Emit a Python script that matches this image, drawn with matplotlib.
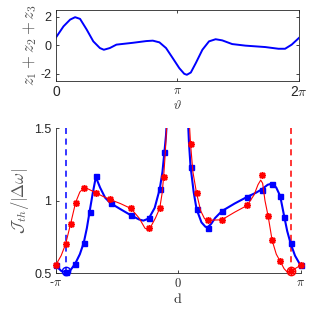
import numpy as np
import matplotlib
matplotlib.use("Agg")
import matplotlib.pyplot as plt

plt.rcParams['font.family'] = ['Liberation Sans', 'DejaVu Sans']
plt.rcParams['mathtext.fontset'] = 'cm'

PI = np.pi

# ---- top panel data: z1+z2+z3 vs theta ----
theta = [0.0, 0.197, 0.367, 0.496, 0.624, 0.795, 0.966, 1.137, 1.239, 1.393, 1.564,
         1.992, 2.334, 2.505, 2.676, 2.847, 3.018, 3.189, 3.317, 3.385, 3.488, 3.616,
         3.787, 3.958, 4.129, 4.300, 4.557, 4.899, 5.412, 5.754, 5.925, 6.096, 6.283]
zsum = [0.55, 1.34, 1.81, 1.98, 1.86, 1.11, 0.28, -0.19, -0.31, -0.19, 0.05,
        0.18, 0.30, 0.33, 0.21, -0.19, -0.89, -1.60, -2.00, -2.07, -1.91, -1.25,
        -0.31, 0.28, 0.43, 0.35, 0.09, -0.02, -0.12, -0.24, -0.24, 0.05, 0.52]

# ---- bottom panel: blue series ----
blue_line_x = [-PI, -3.0, -2.885, -2.76, -2.64, -2.52, -2.42, -2.34, -2.27, -2.19, -2.11,
               -2.0, -1.87, -1.73, -1.47, -1.21, -1.0, -0.89, -0.75, -0.6, -0.47, -0.40,
               -0.35, -0.31, -0.28, np.nan,
               0.25, 0.28, 0.32, 0.40, 0.475, 0.6, 0.70, 0.757, 0.85, 0.95, 1.124, 1.45,
               1.772, 2.0, 2.141, 2.30, 2.414, 2.52, 2.62, 2.727, 2.80, 2.885, 3.0, PI]
blue_line_y = [0.553, 0.515, 0.505, 0.52, 0.564, 0.63, 0.709, 0.81, 0.924, 1.05, 1.163,
               1.09, 1.02, 0.982, 0.94, 0.899, 0.87, 0.862, 0.877, 0.95, 1.081, 1.2,
               1.337, 1.45, 1.58, np.nan,
               1.58, 1.40, 1.236, 1.06, 0.941, 0.85, 0.82, 0.815, 0.84, 0.88, 0.928, 0.98,
               1.026, 1.055, 1.077, 1.11, 1.118, 1.09, 1.032, 0.886, 0.79, 0.707, 0.62, 0.553]
blue_pts_x = [-PI, -2.885, -2.64, -2.42, -2.27, -2.11, -1.73, -1.21, -0.75, -0.47, -0.35,
              0.32, 0.475, 0.757, 1.124, 1.772, 2.141, 2.414, 2.62, 2.727, 2.885, PI]
blue_pts_y = [0.553, 0.51, 0.564, 0.709, 0.924, 1.167, 0.982, 0.899, 0.877, 1.081, 1.337,
              1.236, 0.941, 0.812, 0.928, 1.026, 1.077, 1.116, 1.032, 0.886, 0.707, 0.553]

# ---- bottom panel: red series ----
red_line_x = [-PI, -3.0, -2.885, -2.757, -2.629, -2.52, -2.415, -2.30, -2.107, -1.93,
              -1.748, -1.48, -1.21, -1.0, -0.85, -0.78, -0.70, -0.58, -0.47, -0.41, -0.37,
              -0.33, -0.28, np.nan,
              0.28, 0.321, 0.38, 0.474, 0.58, 0.68, 0.757, 0.95, 1.124, 1.45, 1.772, 1.95,
              2.05, 2.12, 2.17, 2.23, 2.312, 2.414, 2.52, 2.613, 2.72, 2.80, 2.885, 3.0, PI]
red_line_y = [0.553, 0.62, 0.70, 0.84, 0.987, 1.06, 1.088, 1.08, 1.054, 1.03,
              1.008, 0.98, 0.946, 0.88, 0.81, 0.80, 0.82, 0.88, 0.948, 1.05, 1.165,
              1.32, 1.58, np.nan,
              1.58, 1.39, 1.2, 1.052, 0.93, 0.875, 0.866, 0.866, 0.868, 0.92, 0.967, 1.04,
              1.11, 1.142, 1.12, 1.0, 0.891, 0.725, 0.63, 0.585, 0.53, 0.507, 0.505, 0.53, 0.553]
red_pts_x = [-PI, -2.885, -2.757, -2.629, -2.415, -2.107, -1.748, -1.21, -0.748, -0.47, -0.37,
             0.321, 0.474, 0.757, 1.124, 1.772, 2.141, 2.312, 2.414, 2.613, 2.885, PI]
red_pts_y = [0.553, 0.702, 0.840, 0.987, 1.088, 1.054, 1.010, 0.946, 0.813, 0.948, 1.165,
             1.39, 1.052, 0.866, 0.868, 0.967, 1.178, 0.891, 0.725, 0.585, 0.515, 0.553]

blue_mark_x, blue_mark_y = -2.885, 0.515
red_mark_x, red_mark_y = 2.885, 0.515

GRAY = '#262626'

fig = plt.figure(figsize=(3.16, 3.16), dpi=100)

# ---------- top panel ----------
ax1 = fig.add_axes([0.177, 0.744, 0.769, 0.225])
ax1.plot(theta, zsum, color='#0000ff', lw=1.4)
ax1.set_xlim(0, 2 * PI)
ax1.set_ylim(-2.5, 2.5)
ax1.set_xticks([0, PI, 2 * PI])
ax1.set_xticklabels(['0', r'$\pi$', r'2$\pi$'])
ax1.set_yticks([-2, 0, 2])
ax1.set_yticklabels(['-2', '0', '2'])
ax1.tick_params(direction='in', top=True, right=True, length=2.5, width=0.6,
                labelsize=9, colors=GRAY, pad=3)
ax1.tick_params(axis='x', labelsize=10)
ax1.get_xticklabels()[1].set_fontsize(9)
for s in ax1.spines.values():
    s.set_linewidth(0.6)
    s.set_color(GRAY)
ax1.set_ylabel(r'$z_1+z_2+z_3$', fontsize=12, color='#555555', labelpad=1)
ax1.set_xlabel(r'$\vartheta$', fontsize=9, color=GRAY, labelpad=0)

# ---------- bottom panel ----------
ax2 = fig.add_axes([0.176, 0.136, 0.775, 0.458])
ax2.plot(blue_line_x, blue_line_y, color='#0000ff', lw=1.5, zorder=2)
ax2.plot(blue_pts_x, blue_pts_y, ls='none', marker='s', ms=3.6, color='#0000ff',
         zorder=3, clip_on=False)
ax2.plot(red_line_x, red_line_y, color='#ff0000', lw=0.8, zorder=4)
ax2.plot(red_pts_x, red_pts_y, ls='none', marker=(8, 2, 0), ms=5, mew=1.1,
         color='#ff0000', zorder=5, clip_on=False)
ax2.axvline(blue_mark_x, color='#0000ff', ls=(0, (4, 3)), lw=1.1, zorder=1)
ax2.axvline(red_mark_x, color='#ff0000', ls=(0, (4, 3)), lw=1.1, zorder=1)
ax2.plot([blue_mark_x], [blue_mark_y], marker='o', ms=6, mfc='none', mec='#0000ff',
         mew=1.0, clip_on=False, zorder=6)
ax2.plot([red_mark_x], [red_mark_y], marker='o', ms=6, mfc='none', mec='#ff0000',
         mew=1.0, clip_on=False, zorder=6)
ax2.set_xlim(-PI, PI)
ax2.set_ylim(0.5, 1.5)
ax2.set_xticks([-PI, 0, PI])
ax2.set_xticklabels([r'-$\pi$', r'$0$', r'$\pi$'])
ax2.set_yticks([0.5, 1, 1.5])
ax2.set_yticklabels(['0.5', '1', '1.5'])
ax2.tick_params(direction='in', length=2.5, width=0.6, labelsize=9, colors=GRAY, pad=3)
for k in ['top', 'right']:
    ax2.spines[k].set_visible(False)
for k in ['left', 'bottom']:
    ax2.spines[k].set_linewidth(0.6)
    ax2.spines[k].set_color(GRAY)
ax2.set_ylabel(r'$\mathcal{J}_{th}/|\Delta\omega|$', fontsize=12, color='#555555', labelpad=2)
ax2.set_xlabel(r'$\mathrm{d}$', fontsize=10, color=GRAY, labelpad=1)

fig.savefig('out.png', dpi=100)
